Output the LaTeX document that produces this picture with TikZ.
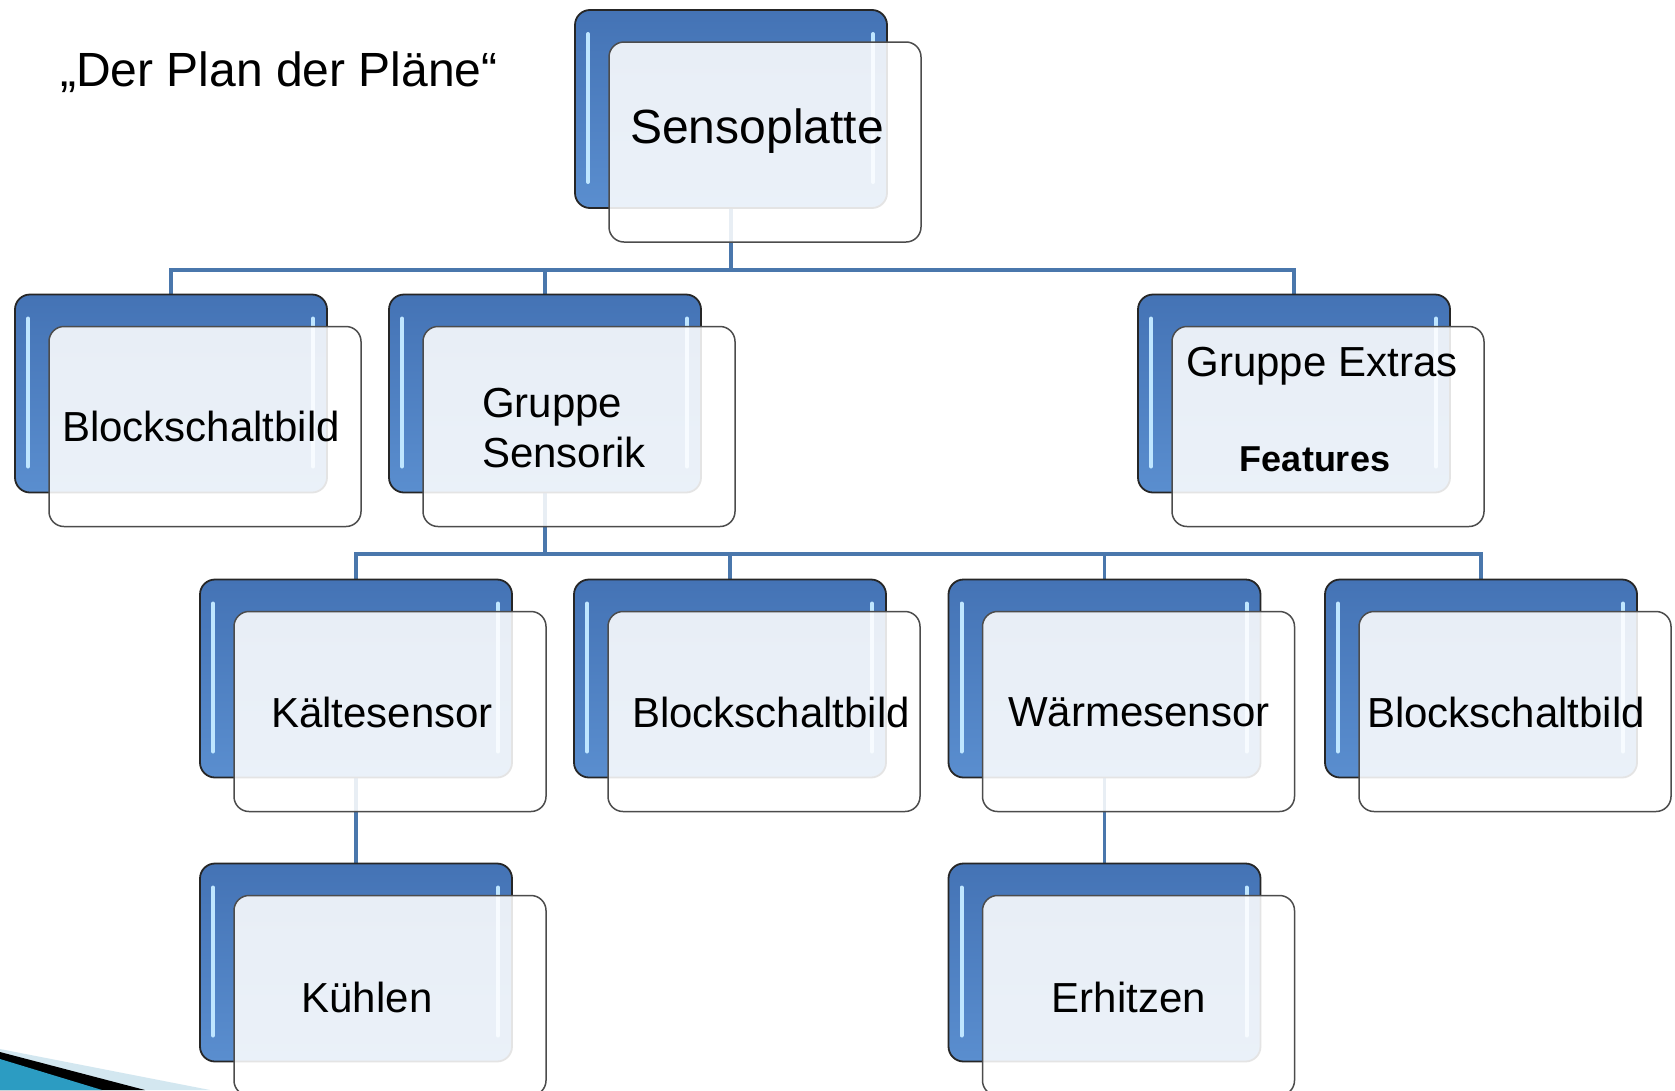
\documentclass[tikz,border=0pt]{standalone}
\usepackage{fontspec}
\setmainfont{Liberation Sans}
\definecolor{bluetop}{HTML}{4473B5}
\definecolor{bluebot}{HTML}{5A8ECF}
\definecolor{hlcol}{HTML}{BFE6FF}
\definecolor{conncol}{HTML}{4A77AC}
\definecolor{frontfill}{HTML}{FFFFFF}
\definecolor{swlight}{HTML}{D3E7F0}
\definecolor{swteal}{HTML}{2C9CC2}
\tikzset{
  backbox/.style={draw=black!85, line width=1.8pt, rounded corners=15pt,
    top color=bluetop, bottom color=bluebot, minimum width=312pt, minimum height=198pt,
    inner sep=0pt,
    path picture={
      \draw[hlcol, line width=4pt, line cap=round]
        ([xshift=13pt,yshift=-24pt]path picture bounding box.north west) --
        ([xshift=13pt,yshift=26pt]path picture bounding box.south west);
      \draw[hlcol, line width=4pt, line cap=round]
        ([xshift=-14pt,yshift=-24pt]path picture bounding box.north east) --
        ([xshift=-14pt,yshift=26pt]path picture bounding box.south east);
    }},
  frontbox/.style={draw=black!70, line width=1.5pt, rounded corners=15pt,
    fill=frontfill, fill opacity=0.88, minimum width=312pt, minimum height=200pt, inner sep=0pt},
  conn/.style={draw=conncol, line width=3.8pt},
  lbl/.style={font=\fontsize{42}{50}\selectfont, inner sep=0pt, text=black},
}
\newcommand\mycard[3]{%
  \node[backbox] (#1-b) at (#2,#3) {};
  \node[frontbox] (#1) at ([xshift=34pt,yshift=-33pt]#1-b.center) {};
}
\begin{document}
\begin{tikzpicture}[x=1pt,y=-1pt]
\clip (0,0) rectangle (1675,1090);
\fill[white] (0,0) rectangle (1675,1090);

% coordinates of cards (back box centres)
\coordinate (p-sp) at (731,109);
\coordinate (p-bb1) at (171,393.5);
\coordinate (p-gs) at (545,393.5);
\coordinate (p-ge) at (1294,393.5);
\coordinate (p-ks) at (356,678.5);
\coordinate (p-bb2) at (730,678.5);
\coordinate (p-ws) at (1104.5,678.5);
\coordinate (p-bb3) at (1481,678.5);
\coordinate (p-kh) at (356,962.5);
\coordinate (p-eh) at (1104.5,962.5);

% bus junctions
\coordinate (j1) at (731,270);
\coordinate (j2) at (545,554);

% connectors (behind the cards)
\draw[conn] (p-sp) -- (j1);
\draw[conn] (p-bb1) |- (j1);
\draw[conn] (p-gs) -- (p-gs |- j1);
\draw[conn] (p-ge) |- (j1);
\draw[conn] (p-gs) -- (j2);
\draw[conn] (p-ks) |- (j2);
\draw[conn] (p-bb2) |- (j2);
\draw[conn] (p-ws) |- (j2);
\draw[conn] (p-bb3) |- (j2);
\draw[conn] (p-ks) -- (p-kh);
\draw[conn] (p-ws) -- (p-eh);

% cards
\mycard{sp}{731}{109}
\mycard{bb1}{171}{393.5}
\mycard{gs}{545}{393.5}
\mycard{ge}{1294}{393.5}
\mycard{ks}{356}{678.5}
\mycard{bb2}{730}{678.5}
\mycard{ws}{1104.5}{678.5}
\mycard{bb3}{1481}{678.5}
\mycard{kh}{356}{962.5}
\mycard{eh}{1104.5}{962.5}

% labels
\node[lbl, font=\fontsize{48}{56}\selectfont] (t-sp) at (757,131) {Sensoplatte};
\node[lbl] (t-bb1) at (201,426) {Blockschaltbild};
\node[lbl, align=left, anchor=west] (t-gs) at (482,428) {Gruppe\\Sensorik};
\node[lbl] (t-ge) at (1322,366) {Gruppe Extras};
\node[lbl, font=\fontsize{36}{42}\selectfont\bfseries] (t-ft) at (1315,459) {Features};
\node[lbl] (t-ks) at (382,712) {Kältesensor};
\node[lbl] (t-bb2) at (771,712) {Blockschaltbild};
\node[lbl] (t-ws) at (1139,712) {Wärmesensor};
\node[lbl] (t-bb3) at (1506,712) {Blockschaltbild};
\node[lbl] (t-kh) at (367,997) {Kühlen};
\node[lbl] (t-eh) at (1129,997) {Erhitzen};

% title
\node[lbl, font=\fontsize{48}{56}\selectfont, anchor=west] (title) at (60,72) {„Der Plan der Pläne“};

% decorative swoosh bottom-left
\fill[swlight] (0,1049) -- (210,1090) -- (0,1090) -- cycle;
\fill[black] (0,1052) -- (145,1090) -- (0,1090) -- cycle;
\fill[swteal] (0,1059) -- (102,1090) -- (0,1090) -- cycle;
\end{tikzpicture}
\end{document}
